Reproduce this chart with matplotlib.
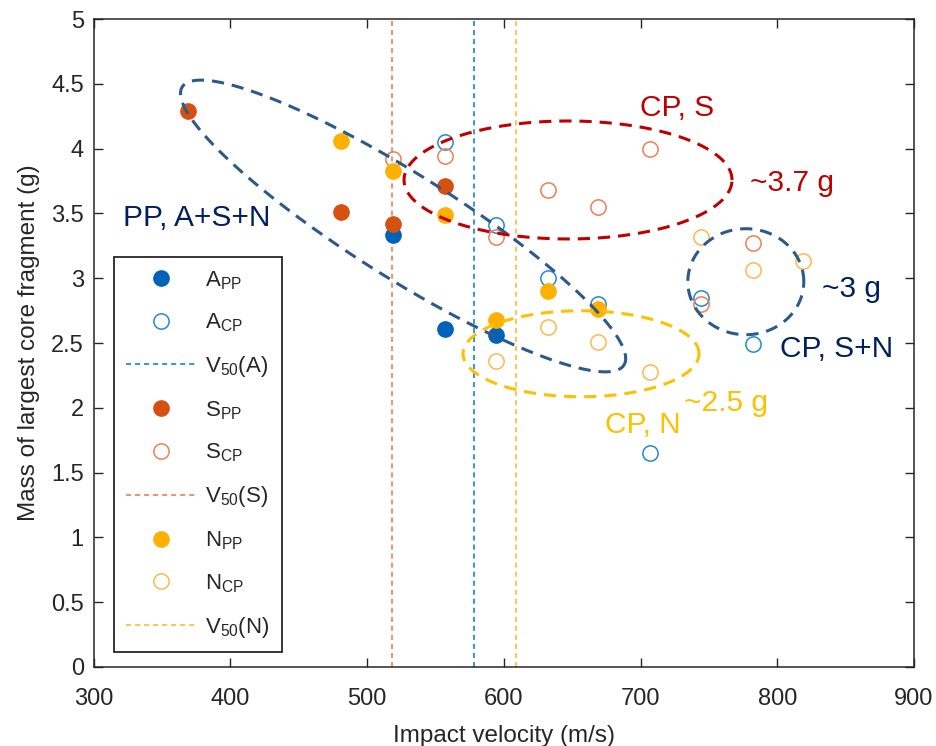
import numpy as np
import matplotlib
matplotlib.use('Agg')
import matplotlib.pyplot as plt
from matplotlib.ticker import FormatStrFormatter

plt.rcParams['font.family'] = ['Liberation Sans', 'DejaVu Sans']
plt.rcParams['mathtext.fontset'] = 'custom'
plt.rcParams['mathtext.rm'] = 'Liberation Sans'
plt.rcParams['mathtext.it'] = 'Liberation Sans:italic'

# Data (impact velocity m/s, mass of largest core fragment g)
a_pp_v = [519, 557, 594]
a_pp_m = [3.33, 2.61, 2.56]
a_cp_v = [557, 594, 632, 669, 707, 744, 782]
a_cp_m = [4.05, 3.41, 3.00, 2.80, 1.65, 2.85, 2.49]
s_pp_v = [369, 481, 519, 557]
s_pp_m = [4.29, 3.51, 3.42, 3.71]
s_cp_v = [519, 557, 594, 632, 669, 707, 744, 782]
s_cp_m = [3.92, 3.94, 3.32, 3.68, 3.55, 4.00, 2.80, 3.27]
n_pp_v = [481, 519, 557, 594, 632, 669]
n_pp_m = [4.06, 3.83, 3.49, 2.68, 2.90, 2.76]
n_cp_v = [594, 632, 669, 707, 744, 782, 819]
n_cp_m = [2.36, 2.62, 2.51, 2.28, 3.32, 3.06, 3.13]
v50 = {'A': 578, 'S': 518, 'N': 609}

c_a_pp, c_a_cp, c_a_v = '#0062B8', '#2388D6', '#1E90D8'
c_s_pp, c_s_cp, c_s_v = '#D65012', '#EE7E55', '#F4875E'
c_n_pp, c_n_cp, c_n_v = '#FFB000', '#FFB84A', '#FFC23A'
navy, red, gold, steel = '#002060', '#C00000', '#FFC000', '#2D5A8A'

fig = plt.figure(figsize=(9.36, 7.46), dpi=100)
ax = fig.add_axes([0.0999, 0.1059, 0.8766, 0.8686])

ms = 11
vdash = (2.8, 2.2)
ax.plot(a_pp_v, a_pp_m, 'o', ls='none', ms=ms, mfc=c_a_pp, mec=c_a_pp,
        label=r'$\mathrm{A_{PP}}$')
ax.plot(a_cp_v, a_cp_m, 'o', ls='none', ms=ms, mfc='none', mec=c_a_cp,
        mew=1.1, label=r'$\mathrm{A_{CP}}$')
ax.axvline(v50['A'], color=c_a_v, lw=1.3, dashes=vdash, zorder=1,
           label=r'$\mathrm{V_{50}}$(A)')
ax.plot(s_pp_v, s_pp_m, 'o', ls='none', ms=ms, mfc=c_s_pp, mec=c_s_pp,
        label=r'$\mathrm{S_{PP}}$')
ax.plot(s_cp_v, s_cp_m, 'o', ls='none', ms=ms, mfc='none', mec=c_s_cp,
        mew=1.1, label=r'$\mathrm{S_{CP}}$')
ax.axvline(v50['S'], color=c_s_v, lw=1.3, dashes=vdash, zorder=1,
           label=r'$\mathrm{V_{50}}$(S)')
ax.plot(n_pp_v, n_pp_m, 'o', ls='none', ms=ms, mfc=c_n_pp, mec=c_n_pp,
        label=r'$\mathrm{N_{PP}}$')
ax.plot(n_cp_v, n_cp_m, 'o', ls='none', ms=ms, mfc='none', mec=c_n_cp,
        mew=1.1, label=r'$\mathrm{N_{CP}}$')
ax.axvline(v50['N'], color=c_n_v, lw=1.3, dashes=vdash, zorder=1,
           label=r'$\mathrm{V_{50}}$(N)')

ax.set_xlim(300, 900)
ax.set_ylim(0, 5)
ax.set_xticks(np.arange(300, 901, 100))
ax.set_yticks(np.arange(0, 5.01, 0.5))
ax.yaxis.set_major_formatter(FormatStrFormatter('%g'))
ax.tick_params(direction='in', length=6.5, width=1, top=True, right=True,
               labelsize=17, colors='#262626')
ax.tick_params(axis='x', pad=15)
ax.tick_params(axis='y', pad=7)
for s in ax.spines.values():
    s.set_color('#262626')
    s.set_linewidth(1.1)
ax.set_xlabel('Impact velocity (m/s)', fontsize=17.5, color='#262626',
              labelpad=11)
ax.set_ylabel('Mass of largest core fragment (g)', fontsize=17.5,
              color='#262626', labelpad=8)


def dashed_ellipse(cx, cy, a_px, b_px, ang, color):
    # ellipse sized in screen pixels, centred in data coordinates
    bb = ax.get_window_extent()
    sx = bb.width / 600.0
    sy = bb.height / 5.0
    t = np.linspace(0, 2 * np.pi, 500)
    th = np.deg2rad(ang)
    u, w = a_px * np.cos(t), b_px * np.sin(t)
    X = u * np.cos(th) - w * np.sin(th)
    Y = u * np.sin(th) + w * np.cos(th)
    ax.plot(cx + X / sx, cy + Y / sy, color=color, lw=2.2,
            dashes=(4, 2.6), zorder=5)


dashed_ellipse(526.4, 3.403, 261, 52, -32.2, steel)
dashed_ellipse(647, 3.758, 164, 59, 0, red)
dashed_ellipse(656.5, 2.417, 118, 43, 0, gold)
dashed_ellipse(777, 2.973, 58, 53, 0, steel)

tfs = 21.5
ax.text(321.8, 3.405, 'PP, A+S+N', color=navy, fontsize=tfs, va='baseline')
ax.text(699.6, 4.25, 'CP, S', color=red, fontsize=tfs, va='baseline')
ax.text(780, 3.675, '~3.7 g', color=red, fontsize=tfs, va='baseline')
ax.text(833, 2.857, '~3 g', color=navy, fontsize=tfs, va='baseline')
ax.text(802, 2.394, 'CP, S+N', color=navy, fontsize=tfs, va='baseline')
ax.text(731.8, 1.978, '~2.5 g', color=gold, fontsize=tfs, va='baseline')
ax.text(674, 1.803, 'CP, N', color=gold, fontsize=tfs, va='baseline')

leg = ax.legend(loc='upper left', bbox_to_anchor=(0.025, 0.633),
                borderaxespad=0, fontsize=16, numpoints=1,
                handlelength=3.15, handletextpad=0.4, labelspacing=0.9,
                fancybox=False, framealpha=1, edgecolor='#262626',
                borderpad=0.55)
leg.get_frame().set_linewidth(1.3)
for t in leg.get_texts():
    t.set_color('#262626')

fig.savefig('out.png', dpi=100)
